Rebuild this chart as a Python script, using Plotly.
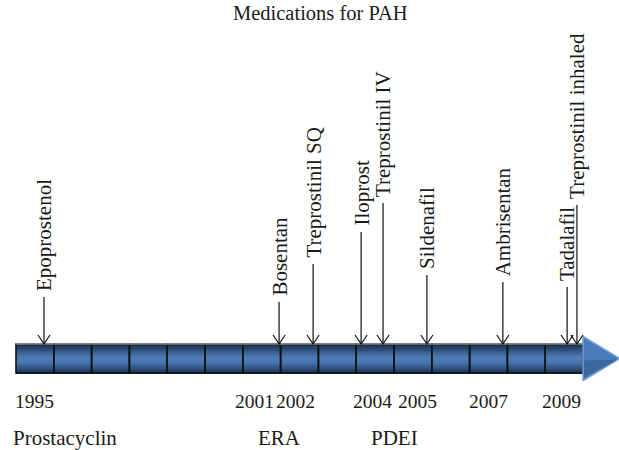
import plotly.graph_objects as go

# ---------------- data ----------------
title = "Medications for PAH"
drugs = ["Epoprostenol", "Bosentan", "Treprostinil SQ", "Iloprost", "Treprostinil IV",
         "Sildenafil", "Ambrisentan", "Tadalafil", "Treprostinil inhaled"]
# position of each approval along the timeline (in timeline segment units)
drug_pos = [0.74, 6.96, 7.86, 9.13, 9.71, 10.87, 12.88, 14.58, 14.84]
# height of each pointer stem above the timeline
drug_stem = [47, 42, 80, 112, 141, 69, 62, 57, 139]

years = ["1995", "2001", "2002", "2004", "2005", "2007", "2009"]
year_pos = [0.48, 6.32, 7.39, 9.42, 10.61, 12.51, 14.44]

classes = ["Prostacyclin", "ERA", "PDEI"]
class_pos = [1.30, 6.96, 10.0]

n_segments = 15

# ---------------- styling constants ----------------
FONT = "Liberation Serif"
BAR_H = 29.0          # timeline bar thickness (y units)
N_STRIPS = 16
HEAD_LEN = 0.97       # arrow head length (x units)
HEAD_HALF = 22.0      # arrow head half height (y units)
V_DX, V_DY = 0.16, 9  # pointer head size
TEXT_GAP = 4

def lerp(c1, c2, t):
    return tuple(int(round(a + (b - a) * t)) for a, b in zip(c1, c2))

stops = [(0.0, (26, 42, 68)), (0.18, (44, 74, 116)), (0.45, (78, 124, 181)),
         (0.62, (74, 119, 176)), (0.85, (48, 82, 130)), (1.0, (26, 44, 74))]

def grad(t):
    for (t0, c0), (t1, c1) in zip(stops[:-1], stops[1:]):
        if t0 <= t <= t1:
            return "rgb(%d,%d,%d)" % lerp(c0, c1, (t - t0) / (t1 - t0))
    return "rgb(%d,%d,%d)" % stops[-1][1]

fig = go.Figure()

seg_x = [1] * n_segments
seg_base = list(range(n_segments))
sh = BAR_H / N_STRIPS
for k in range(N_STRIPS):
    yc = -(k + 0.5) * sh
    fig.add_trace(go.Bar(orientation="h", y=[yc] * n_segments, x=seg_x, base=seg_base,
                         width=sh * 1.05, marker=dict(color=grad((k + 0.5) / N_STRIPS), line_width=0),
                         hoverinfo="skip", showlegend=False))
# segment outlines
fig.add_trace(go.Bar(orientation="h", y=[-BAR_H / 2] * n_segments, x=seg_x, base=seg_base,
                     width=BAR_H, marker=dict(color="rgba(0,0,0,0)", line=dict(color="#111111", width=1.6)),
                     hoverinfo="skip", showlegend=False))
# light top edge
fig.add_trace(go.Scatter(x=[0, n_segments], y=[0, 0], mode="lines",
                         line=dict(color="#b8b8b8", width=1.2), hoverinfo="skip", showlegend=False))

# arrow head
hx0 = n_segments
cy = -BAR_H / 2
fig.add_trace(go.Scatter(x=[hx0, hx0, hx0 + HEAD_LEN, hx0], y=[cy + HEAD_HALF, cy - HEAD_HALF, cy, cy + HEAD_HALF],
                         mode="lines", fill="toself", fillcolor="#4b7cb9",
                         line=dict(color="#6d9dd6", width=1.5), hoverinfo="skip", showlegend=False))
fig.add_trace(go.Scatter(x=[hx0 + 0.03, hx0 + 0.03, hx0 + HEAD_LEN - 0.06, hx0 + 0.03],
                         y=[cy - 2, cy - HEAD_HALF + 2.5, cy - 1, cy - 2],
                         mode="lines", fill="toself", fillcolor="#3c679e",
                         line=dict(width=0), hoverinfo="skip", showlegend=False))

# pointers
px, py = [], []
for x, h in zip(drug_pos, drug_stem):
    px += [x, x, None, x - V_DX, x, x + V_DX, None]
    py += [h, 0, None, V_DY, 0, V_DY, None]
fig.add_trace(go.Scatter(x=px, y=py, mode="lines", line=dict(color="#111111", width=1.2),
                         hoverinfo="skip", showlegend=False))

ann = []
for name, x, h in zip(drugs, drug_pos, drug_stem):
    ann.append(dict(x=x, y=h + TEXT_GAP, text=name, textangle=-90, showarrow=False,
                    xanchor="center", yanchor="bottom", font=dict(family=FONT, size=21, color="#1a1a1a")))
for t, x in zip(years, year_pos):
    ann.append(dict(x=x, y=-57, text=t, showarrow=False, xanchor="center", yanchor="middle",
                    font=dict(family=FONT, size=19.5, color="#1a1a1a")))
for t, x in zip(classes, class_pos):
    ann.append(dict(x=x, y=-94, text=t, showarrow=False, xanchor="center", yanchor="middle",
                    font=dict(family=FONT, size=21, color="#1a1a1a")))
ann.append(dict(x=0.517, y=1.0, xref="paper", yref="paper", text=title, showarrow=False,
                xanchor="center", yanchor="top", font=dict(family=FONT, size=20.5, color="#1a1a1a")))

px_per_unit = 37.8
fig.update_layout(
    width=619, height=450, margin=dict(l=0, r=0, t=0, b=0),
    paper_bgcolor="white", plot_bgcolor="white", barmode="overlay",
    xaxis=dict(range=[-16 / px_per_unit, 603 / px_per_unit], visible=False, fixedrange=True),
    yaxis=dict(range=[-106, 344], visible=False, fixedrange=True),
    annotations=ann, showlegend=False,
)
fig.write_html("out.html", config={"displayModeBar": False},
               post_script="document.body.style.margin='0';document.body.style.overflow='hidden';")
